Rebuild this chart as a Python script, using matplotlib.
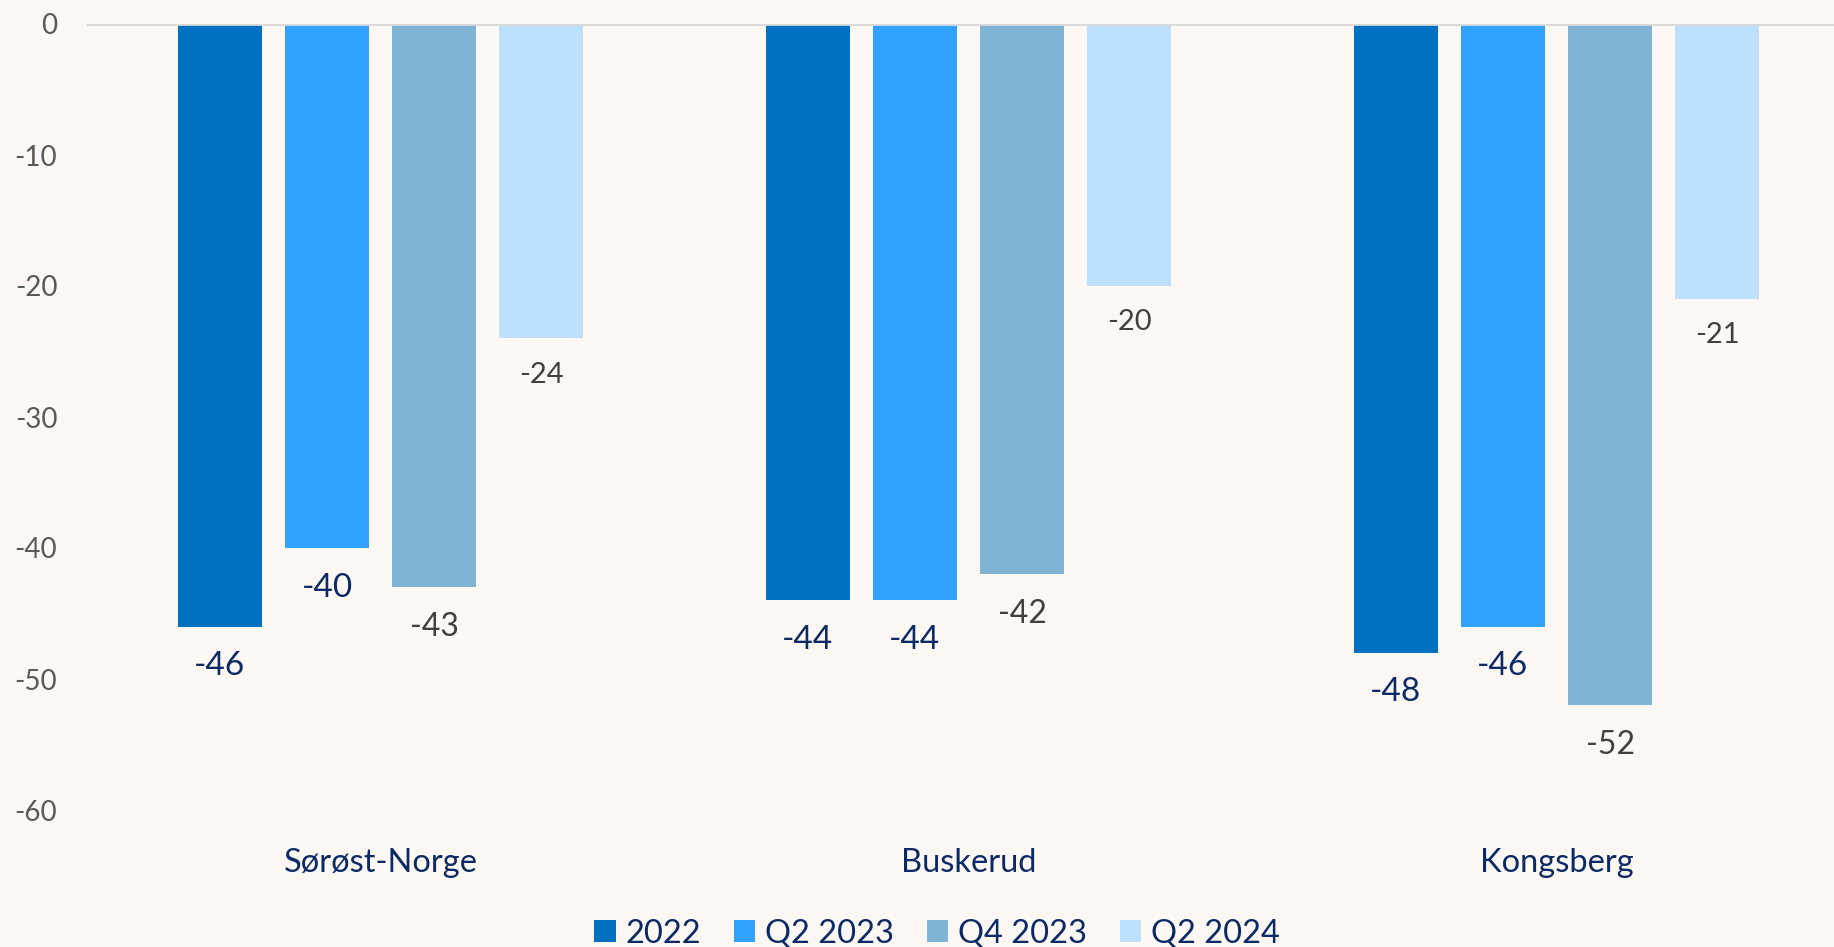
import matplotlib
matplotlib.use("Agg")
import matplotlib.pyplot as plt
import numpy as np

categories = ["Sørøst-Norge", "Buskerud", "Kongsberg"]
series_names = ["2022", "Q2 2023", "Q4 2023", "Q2 2024"]
v_2022 = [-46, -44, -48]
v_q2_2023 = [-40, -44, -46]
v_q4_2023 = [-43, -42, -52]
v_q2_2024 = [-24, -20, -21]
yticks = [0, -10, -20, -30, -40, -50, -60]

series_values = [v_2022, v_q2_2023, v_q4_2023, v_q2_2024]
colors = ["#0070C0", "#31A2FF", "#7FB4D4", "#BDE0FF"]
label_colors = ["#0B2A66", "#0B2A66", "#404040", "#404040"]
label_sizes = [24, 24, 23, 21]
bg = "#FDF8F4"

plt.rcParams['font.family'] = ['Lato', 'DejaVu Sans']

W, H = 1834, 947
fig = plt.figure(figsize=(W / 100, H / 100), dpi=100, facecolor=bg)
left = 86.5 / W
bottom = 1 - 810 / H
top = 1 - 24 / H
ax = fig.add_axes([left, bottom, 1 - left, top - bottom], facecolor=bg)

x = np.arange(len(categories))
width = 0.143
pitch = 0.182
for i, (name, vals) in enumerate(zip(series_names, series_values)):
    pos = x + (i - 1.5) * pitch
    ax.bar(pos, vals, width=width, color=colors[i], label=name, zorder=2)
    for xp, v in zip(pos, vals):
        off = -28.5 if i < 3 else -26
        ax.annotate(f"{v}", (xp, v), xytext=(0, off), textcoords="offset points",
                    ha="center", va="center", fontsize=label_sizes[i],
                    color=label_colors[i])

ax.set_ylim(-60, 0)
ax.set_xlim(-0.5, -0.5 + (W - 86.5) / 588)
ax.set_yticks(yticks)
ax.set_yticklabels([str(t) for t in yticks], fontsize=20, color="#595959")
ax.set_xticks(x)
ax.set_xticklabels(categories, fontsize=23.5, color="#0B2A66")
ax.tick_params(axis="y", length=0, pad=21)
ax.tick_params(axis="x", length=0, pad=27)
for s in ax.spines.values():
    s.set_visible(False)
ax.axhline(0, color="#D9D9D9", linewidth=2, zorder=3)

handles, labels = ax.get_legend_handles_labels()
leg = fig.legend(handles, labels, loc="center", bbox_to_anchor=(937 / W, 1 - 933.5 / H),
                 ncol=4, frameon=False, fontsize=23.5, handlelength=0.66,
                 handleheight=0.66, handletextpad=0.3, columnspacing=1.0)
for t in leg.get_texts():
    t.set_color("#0B2A66")

fig.savefig("out.png", dpi=100, facecolor=bg)
